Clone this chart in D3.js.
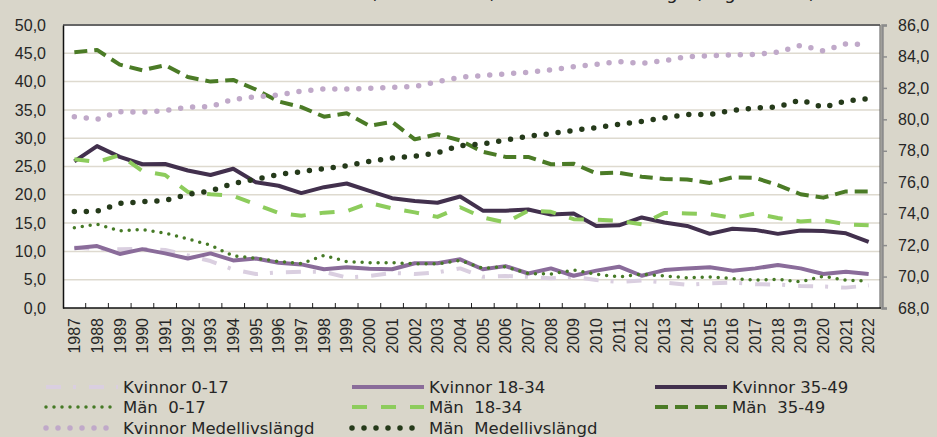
<!DOCTYPE html>
<html lang="sv">
<head>
<meta charset="UTF-8" />
<title>Rökare och medellivslängd</title>
<style>
	body {
		margin: 0;
		background: #d9d6ca;
	}
	svg {
		display: block;
		font-family: "DejaVu Sans", sans-serif;
	}
	text {
		fill: #262626;
	}
	.line {
		fill: none;
	}
</style>
</head>
<body>
<script src="https://cdn.jsdelivr.net/npm/d3@7"></script>
<script>
	var years = d3.range(1987, 2023);

	// vänster axel (procent)
	var kvinnor017 = [10.7, 10.4, 10.4, 10.45, 10.25, 9.3, 8.3, 6.8, 6.0, 6.3, 6.4, 6.4, 5.4, 5.65, 6.2, 6.0, 6.3, 7.0, 5.5, 5.65, 5.5, 5.25, 5.5, 4.95, 4.6, 4.85, 4.5, 4.1, 4.35, 4.5, 4.2, 4.15, 3.9, 3.8, 3.6, 4.0];
	var kvinnor1834 = [10.55, 10.95, 9.55, 10.4, 9.65, 8.75, 9.65, 8.4, 8.75, 8.0, 7.7, 6.85, 7.2, 6.95, 6.85, 7.9, 7.9, 8.6, 6.85, 7.4, 6.1, 7.0, 5.7, 6.6, 7.3, 5.7, 6.7, 7.0, 7.2, 6.6, 7.0, 7.6, 7.0, 6.0, 6.4, 6.0];
	var kvinnor3549 = [25.9, 28.6, 26.7, 25.4, 25.45, 24.3, 23.5, 24.6, 22.2, 21.6, 20.3, 21.35, 22.0, 20.7, 19.4, 18.9, 18.6, 19.7, 17.2, 17.2, 17.4, 16.5, 16.7, 14.5, 14.6, 16.0, 15.1, 14.5, 13.1, 14.0, 13.8, 13.1, 13.7, 13.6, 13.2, 11.7];
	var man017 = [14.2, 14.8, 13.65, 13.85, 13.25, 12.2, 11.1, 9.2, 8.8, 8.2, 7.85, 9.3, 8.2, 8.0, 8.0, 7.8, 7.8, 8.4, 7.0, 7.3, 6.1, 6.0, 6.7, 5.95, 5.5, 6.0, 5.65, 5.35, 5.5, 5.2, 4.95, 5.05, 4.65, 5.6, 4.9, 4.8];
	var man1834 = [26.3, 25.8, 27.0, 24.2, 23.5, 20.5, 20.1, 19.8, 18.3, 16.8, 16.3, 16.85, 17.1, 18.55, 17.6, 16.9, 16.1, 17.8, 16.0, 15.1, 17.2, 17.0, 15.7, 15.6, 15.4, 14.8, 16.8, 16.7, 16.6, 15.9, 16.7, 15.9, 15.3, 15.5, 14.8, 14.6];
	var man3549 = [45.2, 45.6, 43.0, 42.0, 42.9, 40.8, 40.0, 40.3, 38.6, 36.5, 35.5, 33.8, 34.4, 32.2, 32.9, 29.8, 30.7, 29.6, 27.6, 26.7, 26.7, 25.4, 25.5, 23.8, 23.9, 23.2, 22.8, 22.7, 22.1, 23.1, 23.0, 21.7, 20.1, 19.5, 20.6, 20.6];

	// höger axel (år)
	var kvinnorLiv = [80.17, 80.0, 80.49, 80.45, 80.55, 80.77, 80.81, 81.27, 81.44, 81.55, 81.8, 81.93, 81.93, 81.97, 82.04, 82.08, 82.4, 82.68, 82.78, 82.89, 82.99, 83.14, 83.35, 83.5, 83.67, 83.56, 83.73, 83.99, 84.05, 84.1, 84.12, 84.27, 84.71, 84.35, 84.8, 84.75];
	var manLiv = [74.13, 74.15, 74.66, 74.76, 74.83, 75.23, 75.44, 75.93, 76.19, 76.5, 76.67, 76.86, 77.05, 77.33, 77.54, 77.65, 77.88, 78.33, 78.43, 78.69, 78.92, 79.09, 79.3, 79.47, 79.68, 79.87, 80.1, 80.3, 80.3, 80.57, 80.72, 80.79, 81.23, 80.76, 81.17, 81.32];

	var leftTicks = d3.range(0, 51, 5);
	var rightTicks = d3.range(68, 87, 2);

	var series = [
		{ name: "Kvinnor 0-17", values: kvinnor017, axis: "left", color: "#dacfe0", width: 4, dash: "15,12,3,13", cap: "butt" },
		{ name: "Kvinnor 18-34", values: kvinnor1834, axis: "left", color: "#8a6c9a", width: 4, dash: null, cap: "butt" },
		{ name: "Kvinnor 35-49", values: kvinnor3549, axis: "left", color: "#42304d", width: 4, dash: null, cap: "butt" },
		{ name: "Män  0-17", values: man017, axis: "left", color: "#467a26", width: 3.5, dash: "0,8", cap: "round" },
		{ name: "Män  18-34", values: man1834, axis: "left", color: "#8dcc5c", width: 4, dash: "15,14", cap: "butt" },
		{ name: "Män  35-49", values: man3549, axis: "left", color: "#4b7b26", width: 4, dash: "13,7", cap: "butt" },
		{ name: "Kvinnor Medellivslängd", values: kvinnorLiv, axis: "right", color: "#c0a9c9", width: 5.5, dash: "0,12", cap: "round" },
		{ name: "Män  Medellivslängd", values: manLiv, axis: "right", color: "#253a1a", width: 5.5, dash: "0,12", cap: "round" }
	];

	var W = 937, H = 437;
	var plot = { left: 63, right: 880, top: 25, bottom: 308 };

	var svg = d3.select("body").append("svg").attr("width", W).attr("height", H);

	var x = d3.scaleBand().domain(years).range([plot.left, plot.right]).paddingInner(0).paddingOuter(0);
	var xc = function(i) { return x(years[i]) + x.bandwidth() / 2; };
	var yL = d3.scaleLinear().domain([0, 50]).range([plot.bottom, plot.top]);
	var yR = d3.scaleLinear().domain([68, 86]).range([plot.bottom, plot.top]);
	var fmt = function(d) { return d3.format(".1f")(d).replace(".", ","); };

	// titel (avskuren överst, som i förlagan)
	svg.append("text").attr("x", 533).attr("y", -1).attr("text-anchor", "middle")
		.style("font-size", "18px")
		.text("Andel rökare (i hela landet) samt medellivslängd (högra axeln)");

	svg.append("rect").attr("x", plot.left).attr("y", plot.top)
		.attr("width", plot.right - plot.left).attr("height", plot.bottom - plot.top)
		.attr("fill", "#ffffff");

	// rutnät
	svg.append("g").selectAll("line").data(leftTicks.filter(function(d) { return d > 0 && d < 50; }))
		.enter().append("line")
		.attr("x1", plot.left).attr("x2", plot.right)
		.attr("y1", function(d) { return yL(d); }).attr("y2", function(d) { return yL(d); })
		.attr("stroke", "#dedacf").attr("stroke-width", 1.5);

	// ram
	svg.append("line").attr("x1", plot.left).attr("x2", plot.right).attr("y1", plot.top).attr("y2", plot.top)
		.attr("stroke", "#666").attr("stroke-width", 2);
	svg.append("line").attr("x1", plot.right).attr("x2", plot.right).attr("y1", plot.top).attr("y2", plot.bottom)
		.attr("stroke", "#555").attr("stroke-width", 1);

	// vänster axel
	var leftAxis = d3.axisLeft(yL).tickValues(leftTicks).tickFormat(fmt).tickSize(0).tickPadding(17);
	var gl = svg.append("g").attr("transform", "translate(" + plot.left + ",0)").call(leftAxis);
	gl.select(".domain").attr("stroke", "#111").attr("stroke-width", 1.5);
	gl.selectAll("text").style("font-size", "16px").attr("fill", "#262626");

	// höger axel
	var rightAxis = d3.axisRight(yR).tickValues(rightTicks).tickFormat(fmt).tickSize(5).tickPadding(11);
	var gr = svg.append("g").attr("transform", "translate(" + (plot.right + 2) + ",0)").call(rightAxis);
	gr.select(".domain").attr("stroke", "#8c8c8c").attr("stroke-width", 2.5);
	gr.selectAll(".tick line").attr("stroke", "#8c8c8c").attr("stroke-width", 1.5);
	gr.selectAll("text").style("font-size", "16px").attr("fill", "#262626");

	// x-axel
	var bottomAxis = d3.axisBottom(x).tickSize(0).tickFormat(function(d) { return d; });
	var gb = svg.append("g").attr("transform", "translate(0," + plot.bottom + ")").call(bottomAxis);
	gb.select(".domain").remove();
	gb.selectAll(".tick text")
		.style("font-size", "16px").attr("fill", "#262626")
		.attr("text-anchor", "end")
		.attr("transform", "translate(0,10) rotate(-90)")
		.attr("x", 0).attr("y", 0).attr("dy", "0.36em");
	svg.append("g").selectAll("line").data(years.slice(1)).enter().append("line")
		.attr("x1", function(d) { return x(d); }).attr("x2", function(d) { return x(d); })
		.attr("y1", plot.bottom).attr("y2", plot.bottom - 5)
		.attr("stroke", "#222").attr("stroke-width", 1);
	svg.append("line").attr("x1", plot.left).attr("x2", plot.right + 1).attr("y1", plot.bottom).attr("y2", plot.bottom)
		.attr("stroke", "#111").attr("stroke-width", 1.5);

	// linjer
	series.forEach(function(s) {
		var yy = s.axis === "left" ? yL : yR;
		var line = d3.line().x(function(d, i) { return xc(i); }).y(function(d) { return yy(d); });
		svg.append("path").attr("class", "line")
			.attr("d", line(s.values))
			.attr("stroke", s.color)
			.attr("stroke-width", s.width)
			.attr("stroke-linecap", s.cap)
			.attr("stroke-linejoin", "round")
			.attr("stroke-dasharray", s.dash);
	});

	// förklaring
	var legCols = [46, 352, 655];
	var legRows = [387, 407, 428];
	var legend = svg.append("g");
	series.forEach(function(s, i) {
		var col = i % 3, row = Math.floor(i / 3);
		var lx = legCols[col], ly = legRows[row];
		legend.append("line")
			.attr("x1", lx).attr("x2", lx + 72).attr("y1", ly).attr("y2", ly)
			.attr("stroke", s.color)
			.attr("stroke-width", s.width)
			.attr("stroke-linecap", s.cap)
			.attr("stroke-dasharray", s.dash);
		legend.append("text")
			.attr("x", lx + 77).attr("y", ly).attr("dy", "0.36em")
			.style("font-size", "16.5px")
			.style("white-space", "pre")
			.text(s.name);
	});
</script>
</body>
</html>
